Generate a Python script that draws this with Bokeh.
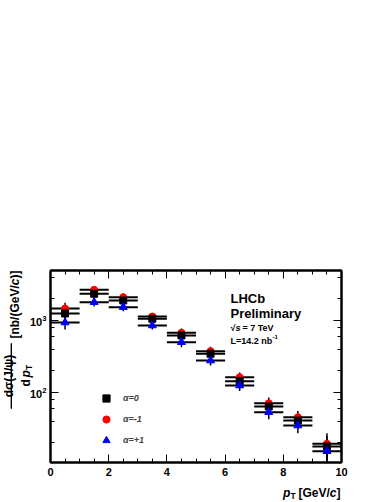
import numpy as np
from math import pi
from bokeh.plotting import figure
from bokeh.models import (ColumnDataSource, Label, Legend, LegendItem, LinearAxis, LogAxis,
                          SingleIntervalTicker, LogTicker, CustomJSTickFormatter)
from bokeh.embed import file_html
from bokeh.resources import INLINE

# ---------------- data ----------------
pt_centers = [0.5, 1.5, 2.5, 3.5, 4.5, 5.5, 6.5, 7.5, 8.5, 9.5]
pt_halfwidth = [0.5, 0.5, 0.5, 0.5, 0.5, 0.5, 0.5, 0.5, 0.5, 0.5]
xsec_alpha0 = [1251, 2349, 1896, 1056, 619, 345, 143.6, 63.9, 40.8, 17.8]
xsec_alpham1 = [1468, 2668, 2107, 1137, 675, 375, 163, 71.0, 45.4, 19.4]
xsec_alphap1 = [938, 1795, 1531, 852, 500, 278, 125, 53.3, 34.8, 15.3]
rel_err = [0.20, 0.13, 0.12, 0.12, 0.15, 0.15, 0.16, 0.20, 0.22, 0.40]
legend_labels = ["α=0", "α=-1", "α=+1"]

FONT = "Liberation Sans"
X0, X1 = 0, 10
Y0, Y1 = 10.66, 4943

# canvas pixel -> data helpers (frame: x 50..341, y 270..462)
W, H = 388, 502
FL, FR, FT, FB = 50, 341, 270, 462


def px_x(px):
    return X0 + (px - FL) / (FR - FL) * (X1 - X0)


def px_y(py):
    l0, l1 = np.log10(Y0), np.log10(Y1)
    return 10 ** (l0 + (FB - py) / (FB - FT) * (l1 - l0))


p = figure(x_range=(X0, X1), y_range=(Y0, Y1), y_axis_type="log",
           frame_width=FR - FL, frame_height=FB - FT,
           min_border_left=FL, min_border_right=W - FR,
           min_border_top=FT, min_border_bottom=H - FB,
           output_backend="svg", toolbar_location=None,
           background_fill_color="white", border_fill_color="white")
p.grid.visible = False
p.outline_line_color = "black"
p.outline_line_width = 2

xticker = SingleIntervalTicker(interval=2, num_minor_ticks=4)
yticker = LogTicker()


def style_axis(ax, labels=True):
    ax.axis_line_width = 2
    ax.axis_line_color = "black"
    ax.major_tick_in = 8
    ax.major_tick_out = 0
    ax.minor_tick_in = 4
    ax.minor_tick_out = 0
    ax.major_tick_line_width = 1
    ax.minor_tick_line_width = 1
    ax.major_tick_line_color = "black"
    ax.minor_tick_line_color = "black"
    ax.major_label_text_font = FONT
    ax.major_label_text_font_style = "bold"
    ax.major_label_text_font_size = "11px"
    ax.major_label_text_color = "black"
    if not labels:
        ax.formatter = CustomJSTickFormatter(code="return ''")
        ax.major_label_text_font_size = "0px"
        ax.major_label_standoff = 0


p.xaxis.ticker = xticker
p.yaxis.ticker = yticker
style_axis(p.xaxis[0])
style_axis(p.yaxis[0])
p.xaxis.major_label_standoff = 5
p.yaxis.major_label_standoff = 4

top_ax = LinearAxis(ticker=xticker)
style_axis(top_ax, labels=False)
p.add_layout(top_ax, "above")
right_ax = LogAxis(ticker=yticker)
style_axis(right_ax, labels=False)
p.add_layout(right_ax, "right")

# ---------------- series ----------------
series = [
    (xsec_alpham1, "circle", "#ff0000", 7),
    (xsec_alpha0, "square", "#000000", 7),
    (xsec_alphap1, "triangle", "#0000ff", 8),
]
sources = []
for vals, marker, color, size in series:
    src = ColumnDataSource(dict(
        x=pt_centers, y=vals,
        xl=[c - w for c, w in zip(pt_centers, pt_halfwidth)],
        xr=[c + w for c, w in zip(pt_centers, pt_halfwidth)],
        yl=[v * (1 - e) for v, e in zip(vals, rel_err)],
        yh=[v * (1 + e) for v, e in zip(vals, rel_err)],
    ))
    sources.append(src)
    p.segment(x0="xl", y0="y", x1="xr", y1="y", source=src, line_color="black", line_width=2)
    p.segment(x0="x", y0="yl", x1="x", y1="yh", source=src, line_color="black", line_width=1.5)

renderers = {}
for (vals, marker, color, size), src in zip(series, sources):
    renderers[marker] = p.scatter("x", "y", source=src, marker=marker, size=size,
                                  fill_color=color, line_color=color)

legend = Legend(items=[
    LegendItem(label=legend_labels[0], renderers=[renderers["square"]]),
    LegendItem(label=legend_labels[1], renderers=[renderers["circle"]]),
    LegendItem(label=legend_labels[2], renderers=[renderers["triangle"]]),
], location=(47, 13), border_line_color=None, background_fill_alpha=0,
    glyph_width=18, glyph_height=18, label_height=18, spacing=3, padding=0, margin=0,
    label_standoff=8, label_text_font=FONT, label_text_font_style="bold italic",
    label_text_font_size="9px")
p.add_layout(legend)


def lab(px, py, text, size, style="bold", align="left", angle=0.0, place=None,
        baseline="alphabetic", **kw):
    l = Label(x=px_x(px), y=px_y(py), text=text, text_font=FONT,
              text_font_style=style, text_font_size=f"{size}px",
              text_align=align, text_baseline=baseline,
              angle=angle, text_color="black", **kw)
    if place is None:
        p.add_layout(l)
    else:
        p.add_layout(l, place)


# ---------------- LHCb texts ----------------
lab(230, 297.5, "LHCb", 13)
lab(230, 312.5, "Preliminary", 13)
lab(230, 327, "√", 9)
lab(235, 327, "s", 9, style="bold italic")
lab(242, 327, "= 7 TeV", 9)
lab(230, 340, "L=14.2 nb", 9)
lab(272, 336, "-1", 6)

# ---------------- x-axis title (side panels: not clipped) ----------------
lab(340, 492, "]", 12, align="right", place="below")
lab(336, 492, "c", 12, style="bold italic", align="right", place="right")
lab(329.3, 492, "[GeV/", 12, align="right", place="right")
lab(290, 495, "T", 8.5, place="above")
lab(282.5, 492, "p", 12, style="bold italic", place="above")

# ---------------- y-axis title (rotated) ----------------
A = pi / 2
lab(14, 270, ")]", 12, align="right", angle=A, place="above")
lab(14, 278, "c", 12, style="bold italic", align="right", angle=A, place="above")
lab(14, 284.7, "[nb/(GeV/", 12, align="right", angle=A, place="above")
lab(8, 375.5, "dσ(J/ψ)", 12, align="center", angle=A, place="above")
lab(25, 386, "d", 12, angle=A, place="above")
lab(25, 377, "p", 12, style="bold italic", angle=A, place="above")
lab(28, 369.5, "T", 8.5, angle=A, place="above")
# fraction bar
lab(10.8, 375.5, " ", 1, align="center", baseline="middle", place="above",
    background_fill_color="black", border_line_color="black", border_line_width=1,
    padding=(0, 32))

open("out.html", "w").write(file_html(p, INLINE))
